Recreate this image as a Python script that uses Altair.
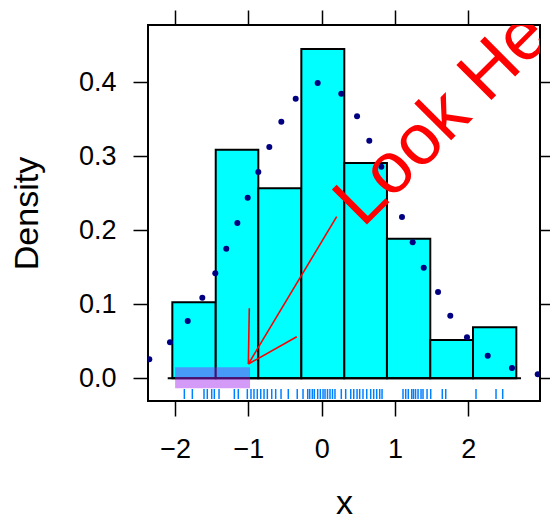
import altair as alt
import pandas as pd

# Histogram (density scale)
bin_lo = [-2.038, -1.446, -0.865, -0.278, 0.308, 0.890, 1.481, 2.064]
bin_hi = [-1.446, -0.865, -0.278, 0.308, 0.890, 1.481, 2.064, 2.655]
density = [0.1027, 0.3089, 0.2568, 0.445, 0.291, 0.1887, 0.0518, 0.0689]

# Density points (navy dots)
dot_x = [-2.352, -2.070, -1.828, -1.629, -1.452, -1.302, -1.151, -1.010, -0.865,
         -0.715, -0.551, -0.355, -0.055, 0.267, 0.482, 0.649, 0.813, 1.095, 1.241,
         1.392, 1.587, 1.754, 1.982, 2.265, 2.596, 2.947]
dot_y = [0.0257, 0.0486, 0.0774, 0.1089, 0.1419, 0.1751, 0.2099, 0.2441, 0.2788,
         0.3126, 0.3468, 0.3778, 0.3991, 0.3846, 0.3541, 0.3211, 0.2859, 0.2180,
         0.1838, 0.1495, 0.1166, 0.0846, 0.0554, 0.0305, 0.0139, 0.0054]

# Rug of observations
rug_x = [-1.874, -1.765, -1.606, -1.561, -1.501, -1.465, -1.401, -1.192, -1.138,
         -1.015, -0.965, -0.924, -0.879, -0.832, -0.787, -0.742, -0.682, -0.628,
         -0.555, -0.456, -0.334, -0.255, -0.191, -0.164, -0.128, -0.101, -0.055,
         -0.019, 0.018, 0.045, 0.079, 0.113, 0.147, 0.181, 0.267, 0.327, 0.396,
         0.437, 0.482, 0.518, 0.563, 0.614, 0.668, 0.709, 0.750, 0.791, 0.823,
         1.109, 1.146, 1.181, 1.228, 1.252, 1.280, 1.314, 1.355, 1.382, 1.437,
         1.487, 1.645, 1.692, 2.105, 2.378, 2.469]
rug_y = [-0.0145, -0.0280]

# Baseline segment, highlight rectangle, arrow and label
base_x = [-2.101, 2.719]
rect_x = [-2.0, -0.978]
rect_y = [-0.0135, 0.0149]
arrow_x = [0.204, -0.988, -0.341]
arrow_y = [0.2184, 0.0946, 0.0562]
arrow_tip = [-1.001, 0.0193]
label_text = ["Look Here"]
label_pos = [0.56, 0.202]

x_ticks = [-2, -1, 0, 1, 2]
y_ticks = [0.0, 0.1, 0.2, 0.3, 0.4]
x_domain = [-2.370, 2.978]
y_domain = [-0.0307, 0.4774]

FONT = "Liberation Sans"

xs = alt.Scale(domain=x_domain, nice=False, zero=False)
ys = alt.Scale(domain=y_domain, nice=False, zero=False)

hist_df = pd.DataFrame({"lo": bin_lo, "hi": bin_hi, "dens": density,
                        "base": [0.0] * len(density)})
dots_df = pd.DataFrame({"x": dot_x, "y": dot_y})
rug_df = pd.DataFrame({"x": rug_x, "y": [rug_y[0]] * len(rug_x),
                       "y2": [rug_y[1]] * len(rug_x)})
base_df = pd.DataFrame({"x": [base_x[0]], "x2": [base_x[1]], "y": [0.0]})
rect_df = pd.DataFrame({"x": [rect_x[0]], "x2": [rect_x[1]],
                        "y": [rect_y[0]], "y2": [rect_y[1]]})
arrow_df = pd.DataFrame({"x": arrow_x, "y": arrow_y,
                         "x2": [arrow_tip[0]] * 3, "y2": [arrow_tip[1]] * 3})
text_df = pd.DataFrame({"x": [label_pos[0]], "y": [label_pos[1]], "t": label_text})

common_axis = dict(domain=False, grid=False, tickColor="black", tickWidth=1.5,
                   tickSize=15, labelFont=FONT, labelFontSize=27,
                   labelColor="black", titleFont=FONT, titleFontSize=34,
                   titleFontWeight="normal", titleColor="black")

x_axis = alt.Axis(orient="bottom", values=x_ticks, format="d", title="x",
                  labelPadding=20, titleX=196, titleY=112,
                  titleBaseline="alphabetic", titleAlign="center", **common_axis)
y_axis = alt.Axis(orient="left", values=y_ticks, format=".1f", title="Density",
                  labelPadding=17, titleX=-111, titleY=188, titleAngle=270,
                  titleBaseline="alphabetic", titleAlign="center", **common_axis)
x_axis_top = alt.Axis(orient="top", values=x_ticks, labels=False, title=None,
                      domain=False, grid=False, tickColor="black", tickWidth=1.5,
                      tickSize=15)
y_axis_right = alt.Axis(orient="right", values=y_ticks, labels=False, title=None,
                        domain=False, grid=False, tickColor="black", tickWidth=1.5,
                        tickSize=15)

bars = alt.Chart(hist_df).mark_rect(fill="#00FFFF", stroke="black",
                                    strokeWidth=2).encode(
    x=alt.X("lo:Q", scale=xs, axis=x_axis),
    x2="hi:Q",
    y=alt.Y("dens:Q", scale=ys, axis=y_axis),
    y2="base:Q",
)

baseline = alt.Chart(base_df).mark_rule(color="black", strokeWidth=2).encode(
    x=alt.X("x:Q", scale=xs, axis=None), x2="x2:Q",
    y=alt.Y("y:Q", scale=ys, axis=None),
)

dots = alt.Chart(dots_df).mark_circle(color="#000080", opacity=1, size=36,
                                      clip=True).encode(
    x=alt.X("x:Q", scale=xs, axis=None),
    y=alt.Y("y:Q", scale=ys, axis=None),
)

rug = alt.Chart(rug_df).mark_rule(color="#0080ff", strokeWidth=1.5).encode(
    x=alt.X("x:Q", scale=xs, axis=x_axis_top),
    y=alt.Y("y:Q", scale=ys, axis=y_axis_right),
    y2="y2:Q",
)

hl = alt.Chart(rect_df).mark_rect(color="#A020F0", opacity=0.45).encode(
    x=alt.X("x:Q", scale=xs, axis=None), x2="x2:Q",
    y=alt.Y("y:Q", scale=ys, axis=None), y2="y2:Q",
)

arrow = alt.Chart(arrow_df).mark_rule(color="red", strokeWidth=1.6).encode(
    x=alt.X("x:Q", scale=xs, axis=None), x2="x2:Q",
    y=alt.Y("y:Q", scale=ys, axis=None), y2="y2:Q",
)

label = alt.Chart(text_df).mark_text(color="red", fontSize=72, font=FONT,
                                     angle=315, align="left",
                                     baseline="alphabetic", clip=True).encode(
    x=alt.X("x:Q", scale=xs, axis=None),
    y=alt.Y("y:Q", scale=ys, axis=None),
    text="t:N",
)

chart = alt.layer(bars, baseline, dots, label, arrow, hl, rug).resolve_axis(
    x="independent", y="independent"
).properties(
    width=392, height=376,
    autosize=alt.AutoSizeParams(type="none"),
    padding={"left": 140, "top": 17, "right": 10, "bottom": 114},
    background="white",
).configure_view(stroke="black", strokeWidth=2)

chart.save("out.html", embed_options={"renderer": "svg", "actions": False})
